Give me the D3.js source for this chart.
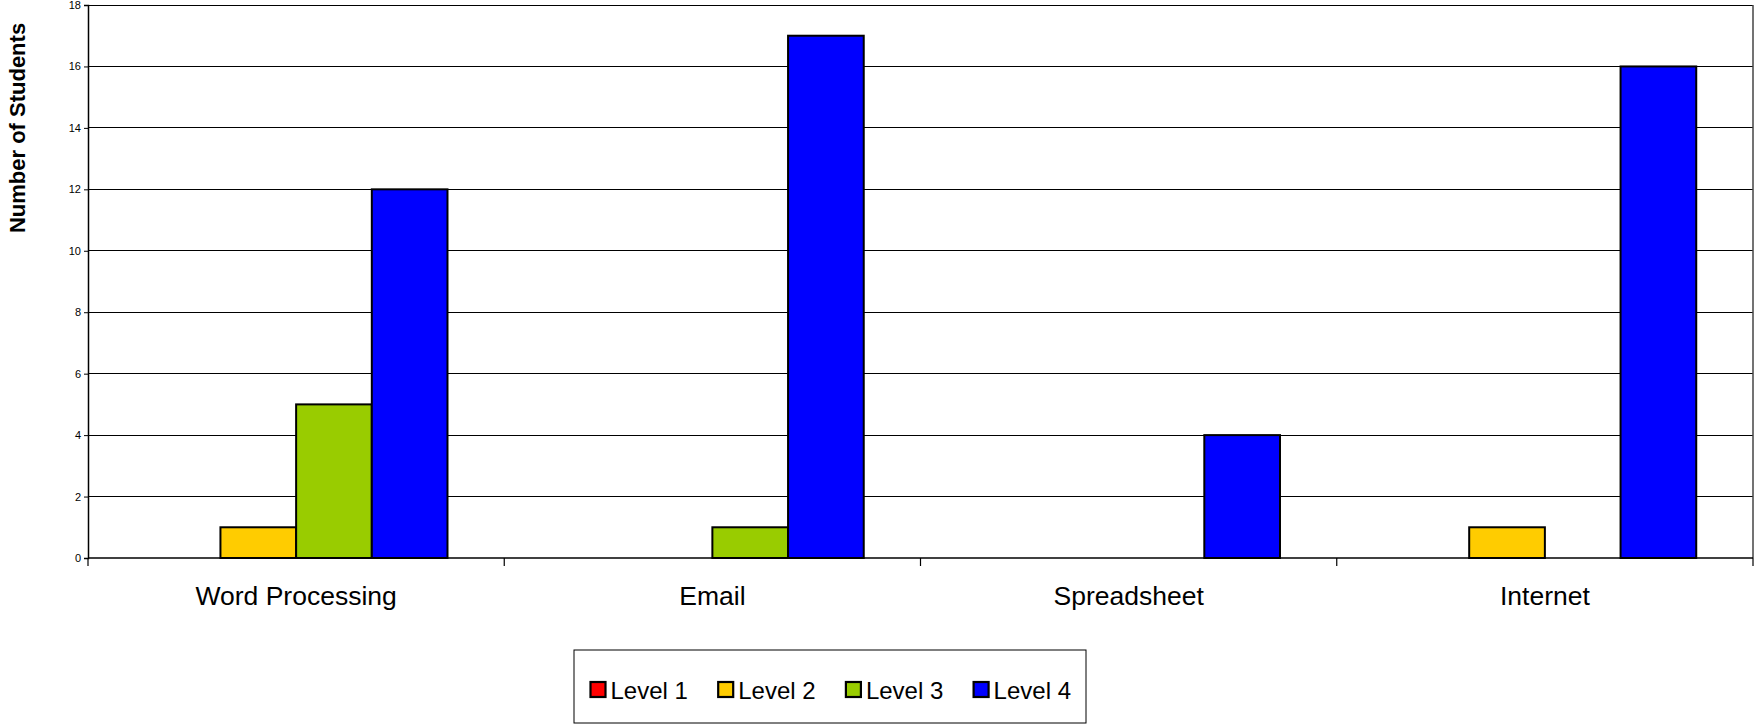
<!DOCTYPE html>
<html>
<head>
<meta charset="utf-8">
<script src="https://cdn.jsdelivr.net/npm/d3@7"></script>
<style>
body { margin: 0; background: #fff; }
svg { font-family: "Liberation Sans", Arial, sans-serif; }
</style>
</head>
<body>
<script>

var categories = ["Word Processing", "Email", "Spreadsheet", "Internet"];
var seriesNames = ["Level 1", "Level 2", "Level 3", "Level 4"];
var level1 = [0, 0, 0, 0];
var level2 = [1, 0, 0, 1];
var level3 = [5, 1, 0, 0];
var level4 = [12, 17, 4, 16];
var yTicks = [0, 2, 4, 6, 8, 10, 12, 14, 16, 18];
var colors = ["#ff0000", "#ffcc00", "#99cc00", "#0000ff"];

var width = 1754,
height = 724,
plotLeft = 88,
plotRight = 1753,
plotTop = 5,
plotBottom = 558;

var seriesValues = [level1, level2, level3, level4];

var svg = d3.select("body")
 .append("svg")
 .attr("width", width)
 .attr("height", height);

var x = d3.scaleBand()
 .domain(categories)
 .range([plotLeft, plotRight]);

var inner = d3.scaleBand()
 .domain(seriesNames)
 .range([0, x.bandwidth()])
 .paddingOuter(0.75)
 .paddingInner(0);

var y = d3.scaleLinear()
 .domain([0, 18])
 .range([plotBottom, plotTop]);

// gridlines
svg.append("g")
 .selectAll("line")
 .data(yTicks.slice(1))
.enter()
 .append("line")
 .attr("x1", plotLeft)
 .attr("x2", plotRight)
 .attr("y1", function (d) { return y(d); })
 .attr("y2", function (d) { return y(d); })
 .style("stroke", "#000")
 .style("stroke-width", 1)
 .style("shape-rendering", "crispEdges");

// right border
svg.append("line")
 .attr("x1", plotRight).attr("x2", plotRight)
 .attr("y1", plotTop).attr("y2", plotBottom)
 .style("stroke", "#444")
 .style("stroke-width", 1.5);

// bars
var rows = [];
categories.forEach(function (c, i) {
 seriesNames.forEach(function (s, j) {
   rows.push({cat: c, series: s, value: seriesValues[j][i], color: colors[j]});
 });
});

svg.append("g")
 .selectAll("rect")
 .data(rows.filter(function (d) { return d.value > 0; }))
.enter()
 .append("rect")
 .attr("x", function (d) { return x(d.cat) + inner(d.series); })
 .attr("y", function (d) { return y(d.value); })
 .attr("width", inner.bandwidth())
 .attr("height", function (d) { return y(0) - y(d.value); })
 .style("fill", function (d) { return d.color; })
 .style("stroke", "#000")
 .style("stroke-width", 2);

// y axis
var yAxis = svg.append("g")
 .attr("transform", "translate(" + plotLeft + ",0)")
 .call(d3.axisLeft(y).tickValues(yTicks).tickSize(4).tickPadding(3));
yAxis.select(".domain").style("stroke", "#000").style("stroke-width", 1.5);
yAxis.selectAll("text").style("font-size", "11px").style("fill", "#000");

// x axis
var xAxis = svg.append("g")
 .attr("transform", "translate(0," + plotBottom + ")")
 .call(d3.axisBottom(x).tickSize(0).tickPadding(0));
xAxis.select(".domain").remove();
xAxis.selectAll("text")
 .attr("dy", 0)
 .attr("y", 47)
 .style("font-size", "26.5px")
 .style("fill", "#000");

svg.append("line")
 .attr("x1", plotLeft).attr("x2", plotRight)
 .attr("y1", plotBottom).attr("y2", plotBottom)
 .style("stroke", "#000")
 .style("stroke-width", 1.5);

svg.append("g")
 .selectAll("line")
 .data(d3.range(categories.length + 1))
.enter()
 .append("line")
 .attr("x1", function (d) { return plotLeft + d * x.step(); })
 .attr("x2", function (d) { return plotLeft + d * x.step(); })
 .attr("y1", plotBottom)
 .attr("y2", plotBottom + 8)
 .style("stroke", "#000")
 .style("stroke-width", 1.2);

// y title
svg.append("text")
 .attr("transform", "translate(25,128) rotate(-90)")
 .attr("text-anchor", "middle")
 .style("font-size", "22px")
 .style("font-weight", "bold")
 .text("Number of Students");

// legend
var legend = svg.append("g");
legend.append("rect")
 .attr("x", 574)
 .attr("y", 650)
 .attr("width", 512)
 .attr("height", 73)
 .style("fill", "#fff")
 .style("stroke", "#000")
 .style("stroke-width", 1);

var item = legend.selectAll(".item")
 .data(seriesNames)
.enter()
 .append("g")
 .attr("transform", function (d, i) {
   return "translate(" + (590.5 + i * 127.7) + ",682)";
 });

item.append("rect")
 .attr("width", 15)
 .attr("height", 15)
 .style("fill", function (d, i) { return colors[i]; })
 .style("stroke", "#000")
 .style("stroke-width", 2.2);

item.append("text")
 .attr("x", 20)
 .attr("y", 17)
 .style("font-size", "24px")
 .text(function (d) { return d; });

</script>
</body>
</html>
